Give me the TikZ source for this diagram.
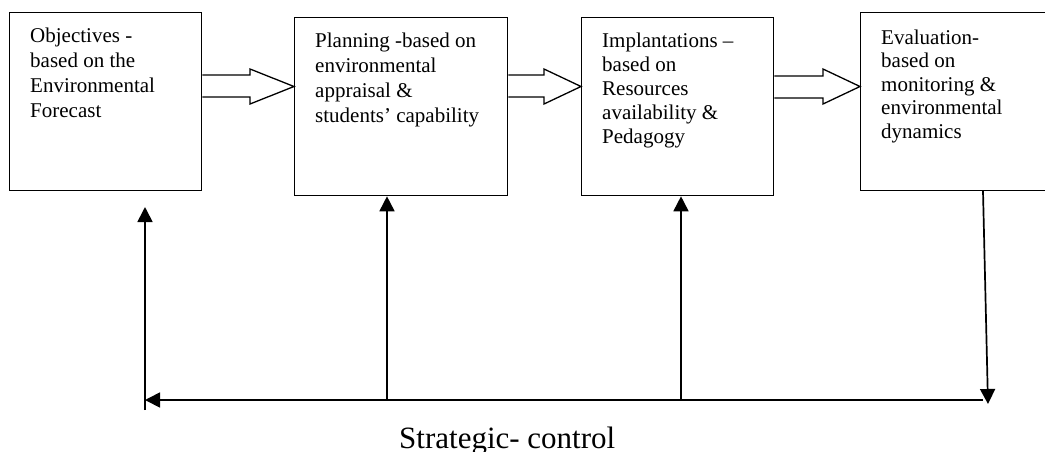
\documentclass[tikz,border=0pt]{standalone}
\usepackage{fontspec}
\setmainfont{Liberation Serif}
\usetikzlibrary{arrows.meta}
\begin{document}
\begin{tikzpicture}[x=1pt,y=-1pt,
  stagebox/.style={draw,line width=1.3pt,minimum width=#1,minimum height=178pt,inner sep=0pt,anchor=north west},
  stagetext/.style={anchor=north west,inner sep=0pt,align=left,font=\fontsize{21}{#1}\selectfont},
  blockarrow/.style={draw,line width=1.3pt,fill=white,line join=miter},
  feedback/.style={line width=1.7pt},
  tipup/.style={-{Triangle[length=15pt,width=15pt]}}]
\clip (0,0) rectangle (1045,451);
% stage boxes
\node[stagebox=192pt] (b1) at (9,12) {};
\node[stagebox=213pt] (b2) at (294,17) {};
\node[stagebox=192pt] (b3) at (581,17) {};
\node[stagebox=200pt] (b4) at (860,12) {};
% texts
\node[stagetext=25pt] (t1) at (30,27.5) {Objectives -\\based on the\\Environmental\\Forecast};
\node[stagetext=25pt] (t2) at (315,32.5) {Planning -based on\\environmental\\appraisal \&\\students’ capability};
\node[stagetext=24pt] (t3) at (602,32.5) {Implantations –\\based on\\Resources\\availability \&\\Pedagogy};
\node[stagetext=23.5pt] (t4) at (881,29.5) {Evaluation-\\based on\\monitoring \&\\environmental\\dynamics};
% block arrows between boxes
\draw[blockarrow] (b1.east |- 0,75) -- (250,75) -- (250,69) -- (b2.west |- 0,86.5) -- (250,104) -- (250,97) -- (b1.east |- 0,97);
\draw[blockarrow] (b2.east |- 0,75) -- (544,75) -- (544,69) -- (b3.west |- 0,86.5) -- (544,104) -- (544,97) -- (b2.east |- 0,97);
\draw[blockarrow] (b3.east |- 0,76) -- (823,76) -- (823,69) -- (b4.west |- 0,86.5) -- (823,104) -- (823,98) -- (b3.east |- 0,98);
% feedback loop
\coordinate (fl) at (145,400);
\coordinate (flb) at (145,410);
\coordinate (f2) at (387,400);
\coordinate (f3) at (681,400);
\coordinate (fr) at (983,400);
\coordinate (ftop) at (983,191);
\coordinate (fdown) at (988,404);
\draw[feedback,tipup] (ftop) -- (fdown);
\draw[feedback,tipup] (fr) -- (fl);
\draw[feedback,tipup] (flb) -- (145,207);
\draw[feedback,tipup] (f2) -- (f2 |- b2.south);
\draw[feedback,tipup] (f3) -- (f3 |- b3.south);
% caption
\node[anchor=base west,inner sep=0pt,font=\fontsize{31}{36}\selectfont] (cap) at (399,448) {Strategic- control};
\end{tikzpicture}
\end{document}
